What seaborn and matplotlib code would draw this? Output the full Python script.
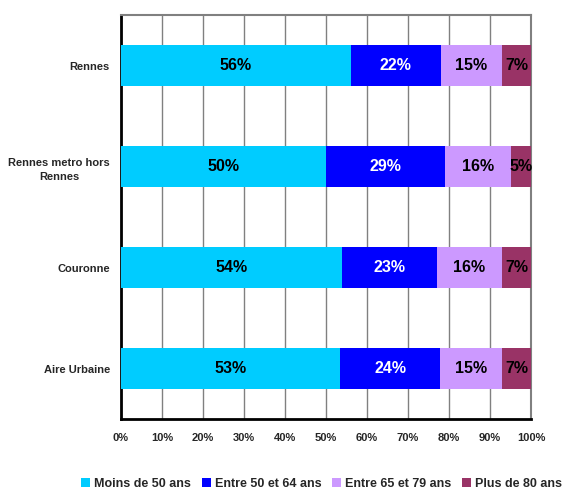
import numpy as np
import pandas as pd
import matplotlib
matplotlib.use("Agg")
import matplotlib.pyplot as plt
from matplotlib.patches import Patch
from matplotlib.ticker import FixedLocator, PercentFormatter
import seaborn as sns

# données
zones = ["Rennes", "Rennes metro hors\nRennes", "Couronne", "Aire Urbaine"]
tranches = ["Moins de 50 ans", "Entre 50 et 64 ans", "Entre 65 et 79 ans", "Plus de 80 ans"]
moins_50 = [56, 50, 54, 53]
entre_50_64 = [22, 29, 23, 24]
entre_65_79 = [15, 16, 16, 15]
plus_80 = [7, 5, 7, 7]

couleurs = ["#00CCFF", "#0000FF", "#CC99FF", "#993366"]
couleurs_txt = ["black", "white", "black", "black"]

sns.set_style("white")
plt.rcParams["font.family"] = ["Liberation Sans Narrow", "Liberation Sans", "DejaVu Sans"]
plt.rcParams["font.weight"] = "bold"

# tableau en 100 %
vals = np.array([moins_50, entre_50_64, entre_65_79, plus_80], dtype=float).T
parts = vals / vals.sum(axis=1, keepdims=True) * 100
cumul = np.cumsum(parts, axis=1)
df = pd.DataFrame(cumul, columns=tranches)
df["zone"] = zones

fig = plt.figure(figsize=(5.64, 4.9), dpi=100)
ax = fig.add_axes([0.2145, 0.1449, 0.7270, 0.8239])

# barres empilées : on dessine les cumuls du plus grand au plus petit
for i in range(len(tranches) - 1, -1, -1):
    sns.barplot(data=df, x=tranches[i], y="zone", orient="h", color=couleurs[i],
                width=0.41, saturation=1, edgecolor="none", ax=ax, zorder=3)

# étiquettes
for r in range(len(zones)):
    for i in range(len(tranches)):
        debut = cumul[r, i] - parts[r, i]
        ax.text(debut + parts[r, i] / 2, r, f"{int(vals[r, i])}%", ha="center", va="center",
                fontsize=11.5, fontweight="bold", color=couleurs_txt[i], zorder=4)

ax.set_xlim(0, 100)
ax.set_ylim(len(zones) - 0.5, -0.5)
ax.set_xlabel("")
ax.set_ylabel("")
ax.xaxis.set_major_locator(FixedLocator(np.arange(0, 101, 10)))
ax.xaxis.set_major_formatter(PercentFormatter(decimals=0))
ax.grid(axis="x", color="#808080", lw=1, zorder=0)
ax.grid(axis="y", visible=False)

ax.yaxis.set_minor_locator(FixedLocator(np.arange(-0.5, len(zones), 1)))
ax.tick_params(axis="y", which="major", length=0, labelsize=8, pad=8)
ax.tick_params(axis="y", which="minor", length=4, width=1.5, color="black", direction="out")
ax.tick_params(axis="x", which="major", length=4, width=1.5, color="black", direction="out",
               labelsize=8, pad=6)
for lab in ax.get_yticklabels() + ax.get_xticklabels():
    lab.set_fontweight("bold")
for lab in ax.get_yticklabels():
    lab.set_multialignment("center")
    lab.set_linespacing(1.6)

for s in ["left", "bottom"]:
    ax.spines[s].set_color("black")
    ax.spines[s].set_linewidth(2)
for s in ["top", "right"]:
    ax.spines[s].set_color("#808080")
    ax.spines[s].set_linewidth(1.5)

poignees = [Patch(facecolor=c, edgecolor="none") for c in couleurs]
fig.legend(poignees, tranches, loc="center", bbox_to_anchor=(0.570, 0.012), ncol=4,
           frameon=False, handlelength=0.75, handleheight=0.75, handletextpad=0.3,
           columnspacing=0.85, prop={"size": 9, "weight": "bold"})

fig.savefig("out.png", dpi=100)
